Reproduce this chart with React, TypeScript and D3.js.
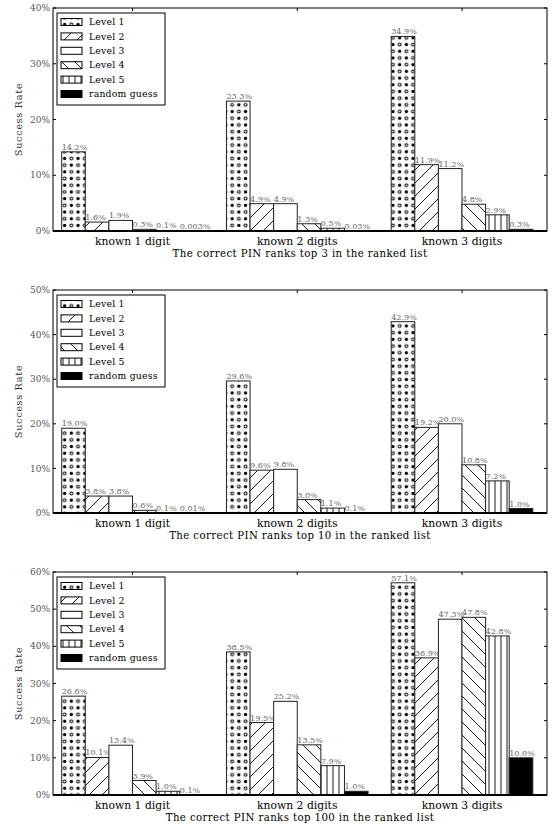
import React from "react";
import * as d3 from "d3";

// Grouped bar panels: success rate by number of known digits and level.
const categories = ["known 1 digit", "known 2 digits", "known 3 digits"];
const levels = ["Level 1", "Level 2", "Level 3", "Level 4", "Level 5", "random guess"];

// Values in percent, one row per category, one column per level.
const top3Rates = [
  [14.2, 1.6, 1.9, 0.3, 0.1, 0.003],
  [23.3, 4.9, 4.9, 1.3, 0.5, 0.03],
  [34.9, 11.9, 11.2, 4.8, 2.9, 0.3],
];
const top10Rates = [
  [19.0, 3.8, 3.8, 0.6, 0.1, 0.01],
  [29.6, 9.6, 9.8, 3.0, 1.1, 0.1],
  [42.9, 19.2, 20.0, 10.8, 7.2, 1.0],
];
const top100Rates = [
  [26.6, 10.1, 13.4, 3.9, 1.0, 0.1],
  [38.5, 19.5, 25.2, 13.5, 7.9, 1.0],
  [57.1, 36.9, 47.3, 47.8, 42.8, 10.0],
];

const panelTitles = [
  "The correct PIN ranks top 3 in the ranked list",
  "The correct PIN ranks top 10 in the ranked list",
  "The correct PIN ranks top 100 in the ranked list",
];
const panelMax = [40, 50, 60];
const panelData = [top3Rates, top10Rates, top100Rates];

const W = 557;
const H = 825;
const FONT = "'DejaVu Serif', 'Liberation Serif', serif";
const plotLeft = 53;
const plotRight = 547;
const plotHeight = 223;
const panelTops = [8, 290, 572];
const barWidth = 23.6;
const fills = ["url(#pDots)", "url(#pFwd)", "#fff", "url(#pBack)", "url(#pVert)", "#000"];

const fmt = (v: number) => (v >= 0.1 ? v.toFixed(1) : String(v)) + "%";

function Patterns() {
  return (
    <defs>
      <pattern id="pDots" width="13.4" height="13.4" patternUnits="userSpaceOnUse" x={1} y={1}>
        <rect width="13.4" height="13.4" fill="#fff" />
        <circle cx="3.35" cy="3.35" r="1.7" fill="#000" />
        <circle cx="10.05" cy="3.35" r="1.5" fill="#fff" stroke="#000" strokeWidth="1" />
        <circle cx="3.35" cy="10.05" r="1.5" fill="#fff" stroke="#000" strokeWidth="1" />
        <circle cx="10.05" cy="10.05" r="1.7" fill="#000" />
      </pattern>
      <pattern id="pFwd" width="13" height="13" patternUnits="userSpaceOnUse">
        <rect width="13" height="13" fill="#fff" />
        <path d="M0,13 L13,0 M-3,3 L3,-3 M10,16 L16,10" stroke="#000" strokeWidth="0.9" />
      </pattern>
      <pattern id="pBack" width="13" height="13" patternUnits="userSpaceOnUse">
        <rect width="13" height="13" fill="#fff" />
        <path d="M0,0 L13,13 M-3,10 L3,16 M10,-3 L16,3" stroke="#000" strokeWidth="0.9" />
      </pattern>
      <pattern id="pVert" width="6" height="6" patternUnits="userSpaceOnUse">
        <rect width="6" height="6" fill="#fff" />
        <path d="M3,0 L3,6" stroke="#000" strokeWidth="0.9" />
      </pattern>
    </defs>
  );
}

function Panel({ idx }: { idx: number }) {
  const top = panelTops[idx];
  const bottom = top + plotHeight;
  const yMax = panelMax[idx];
  const rows = panelData[idx];
  const y = d3.scaleLinear().domain([0, yMax]).range([bottom, top]);
  const x = d3.scaleLinear().domain([1, 3]).range([132.5, 462]);
  const ticks = d3.range(0, yMax + 1, 10);
  const groupW = barWidth * levels.length;

  return (
    <g>
      {/* bars */}
      {rows.map((vals, ci) => {
        const x0 = x(ci + 1) - groupW / 2;
        return (
          <g key={ci}>
            {vals.map((v, li) => {
              const bx = x0 + li * barWidth;
              const by = y(v);
              return (
                <g key={li}>
                  <rect
                    x={bx}
                    y={by}
                    width={barWidth}
                    height={Math.max(bottom - by, 0.01)}
                    fill={fills[li]}
                    stroke="#222"
                    strokeWidth={1}
                  />
                  <text
                    x={bx}
                    y={by - 2}
                    fontSize={8.1}
                    fill="#666"
                    fontFamily={FONT}
                  >
                    {fmt(v)}
                  </text>
                </g>
              );
            })}
          </g>
        );
      })}

      {/* frame */}
      <rect
        x={plotLeft}
        y={top}
        width={plotRight - plotLeft}
        height={plotHeight}
        fill="none"
        stroke="#000"
        strokeWidth={1}
      />
      <line x1={plotLeft} x2={plotRight} y1={bottom} y2={bottom} stroke="#000" strokeWidth={1.8} />

      {/* y ticks */}
      {ticks.map((t) => (
        <g key={t}>
          <line x1={plotLeft} x2={plotLeft + 3} y1={y(t)} y2={y(t)} stroke="#000" />
          <line x1={plotRight} x2={plotRight - 3} y1={y(t)} y2={y(t)} stroke="#000" />
          <text
            x={plotLeft - 3}
            y={y(t)}
            dy="0.35em"
            textAnchor="end"
            fontSize={9}
            fill="#555"
            fontFamily={FONT}
          >
            {t}%
          </text>
        </g>
      ))}
      {/* x ticks */}
      {categories.map((c, ci) => (
        <g key={c}>
          <line x1={x(ci + 1)} x2={x(ci + 1)} y1={top} y2={top + 3} stroke="#000" />
          <text
            x={x(ci + 1)}
            y={bottom + 14}
            textAnchor="middle"
            fontSize={10.8}
            fill="#000"
            fontFamily={FONT}
          >
            {c}
          </text>
        </g>
      ))}
      <text
        x={(plotLeft + plotRight) / 2}
        y={bottom + 25.5}
        textAnchor="middle"
        fontSize={10.2}
        fill="#000"
        fontFamily={FONT}
        letterSpacing={0.4}
      >
        {panelTitles[idx]}
      </text>
      <text
        transform={`translate(22,${(top + bottom) / 2}) rotate(-90)`}
        textAnchor="middle"
        fontSize={9.8}
        fill="#333"
        fontFamily={FONT}
        letterSpacing={0.6}
      >
        Success Rate
      </text>

      {/* legend */}
      <g>
        <rect x={57} y={top + 5} width={108} height={92} fill="#fff" stroke="#000" strokeWidth={1} />
        {levels.map((l, li) => {
          const ly = top + 14 + li * 14.4;
          return (
            <g key={l}>
              <rect x={61} y={ly - 3.5} width={21} height={7} fill={fills[li]} stroke="#000" strokeWidth={1} />
              <text x={89} y={ly} dy="0.35em" fontSize={9.3} fill="#000" fontFamily={FONT} letterSpacing={0.2}>
                {l}
              </text>
            </g>
          );
        })}
      </g>
    </g>
  );
}

export default function App() {
  return (
    <svg width={W} height={H} style={{ position: "absolute", left: 0, top: 0, background: "#fff" }}>
      <Patterns />
      <rect width={W} height={H} fill="#fff" />
      {panelTops.map((_, i) => (
        <Panel key={i} idx={i} />
      ))}
    </svg>
  );
}
